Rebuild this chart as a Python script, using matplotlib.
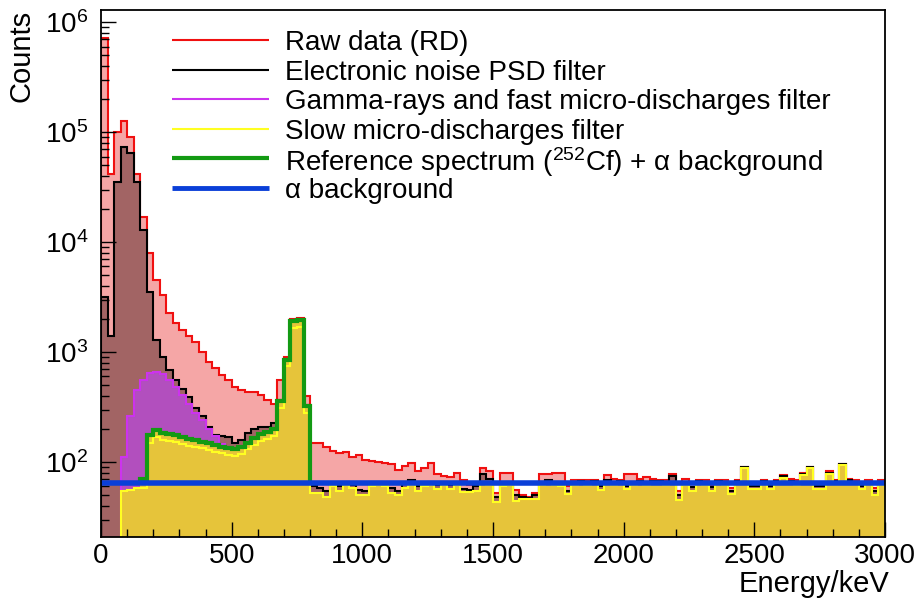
import numpy as np
import matplotlib
matplotlib.use("Agg")
import matplotlib.pyplot as plt
from matplotlib.ticker import MultipleLocator, LogLocator, NullFormatter

plt.rcParams['font.family'] = ['Liberation Sans', 'DejaVu Sans']
plt.rcParams['mathtext.fontset'] = 'custom'
plt.rcParams['mathtext.rm'] = 'Liberation Sans'
plt.rcParams['mathtext.it'] = 'Liberation Sans:italic'
plt.rcParams['mathtext.default'] = 'regular'

# 25 keV bins from 0 to 3000 keV
energy_edges = np.arange(0, 3001, 25)

# Raw data (RD), counts per bin
raw_counts = [
    7.2e5, 4.2e4, 1.0e5, 1.26e5, 9.0e4, 4.2e4, 1.7e4, 7.9e3, 4.5e3, 3.3e3,
    2.26e3, 1.84e3, 1.58e3, 1.4e3, 1.23e3, 1.0e3, 810, 710, 620, 560,
    480, 450, 430, 430, 410, 366, 340, 560, 900, 2000, 2050, 400,
    150, 148, 136, 126, 121, 124, 112, 116, 104, 102,
    100, 98, 96, 84, 92, 98, 82, 88, 98, 78,
    74, 73, 80, 68, 62, 66, 88, 82, 52, 80,
    79, 56, 50, 48, 52, 78, 77, 80, 79, 60,
    68, 69, 68, 69, 64, 76, 70, 68, 78, 78,
    70, 73, 70, 69, 68, 77, 55, 70, 64, 69,
    68, 62, 69, 68, 58, 69, 91, 64, 65, 69,
    64, 69, 76, 70, 68, 80, 91, 64, 63, 82,
    69, 96, 70, 68, 63, 68, 58, 68,
]

# Electronic noise PSD filter
noise_filtered = [
    3.2e3, 1.4e3, 3.5e4, 7.3e4, 6.5e4, 3.5e4, 1.3e4, 3.5e3, 1.3e3, 900,
    690, 560, 460, 390, 310, 260, 210, 176, 172, 170,
    148, 158, 182, 200, 210, 210, 226, 370, 870, 1950, 2000, 330,
    60, 58, 54, 64, 60, 66, 62, 56, 55, 66,
    66, 64, 58, 55, 64, 68, 60, 64, 66, 62,
    66, 62, 66, 57, 56, 60, 78, 70, 48, 64,
    66, 50, 48, 47, 50, 66, 68, 66, 65, 55,
    66, 67, 66, 67, 60, 68, 66, 67, 60, 66,
    67, 66, 67, 67, 66, 74, 50, 66, 59, 67,
    66, 59, 67, 66, 54, 67, 90, 60, 61, 67,
    61, 67, 75, 67, 66, 78, 90, 61, 60, 80,
    67, 95, 68, 66, 60, 66, 54, 66,
]

# Gamma-rays and fast micro-discharges filter (bins from 75 to 800 keV)
gamma_first_bin = 3
gamma_filtered = [
    110, 260, 450, 560, 640, 660, 630, 560, 480, 410,
    340, 280, 240, 200, 172, 145, 136, 134, 138, 152,
    167, 182, 190, 202, 362, 855, 1900, 1950, 322,
]

# Slow micro-discharges filter (bins from 75 keV on)
slow_first_bin = 3
slow_filtered = [
    55, 56, 58, 58, 150, 168, 160, 155, 152, 147,
    140, 137, 133, 128, 124, 120, 116, 114, 118, 130,
    143, 156, 163, 174, 310, 740, 1650, 1700, 280,
    52, 52, 48, 60, 54, 62, 58, 50, 50, 61,
    62, 61, 52, 50, 58, 62, 55, 61, 62, 57,
    62, 57, 62, 53, 53, 55, 63, 62, 43, 60,
    62, 44, 46, 46, 46, 62, 63, 62, 61, 51,
    62, 63, 62, 63, 56, 63, 62, 63, 57, 62,
    63, 62, 63, 64, 62, 64, 45, 62, 55, 63,
    62, 55, 63, 62, 51, 63, 88, 57, 57, 63,
    57, 63, 72, 63, 62, 76, 88, 57, 57, 78,
    64, 93, 65, 63, 57, 63, 50, 62,
]

# Reference spectrum (252Cf) + alpha background (bins from 150 to 800 keV)
ref_first_bin = 6
reference = [
    70, 176, 195, 185, 180, 176, 170, 162, 158, 153,
    148, 143, 138, 134, 132, 136, 150, 165, 180, 188,
    200, 360, 850, 1900, 1950, 320,
]

alpha_background = 65

legend_labels = [
    'Raw data (RD)',
    'Electronic noise PSD filter',
    'Gamma-rays and fast micro-discharges filter',
    'Slow micro-discharges filter',
    'Reference spectrum ($^{252}$Cf) + α background',
    'α background',
]

ymin, ymax = 20.8, 1.29e6
base = 1.0

red, pink = '#f01010', '#f5a6a6'
brown = '#a26464'
purple_line, purple_fill = '#cc33ee', '#b24fbe'
yellow_line, gold = '#ffff22', '#e6c43a'
green = '#139a13'
blue = '#0a3fd8'

fig = plt.figure(figsize=(9.21, 6.03), dpi=100)
ax = fig.add_axes([101 / 921, 66 / 603, 784 / 921, 527 / 603])
ax.set_yscale('log')

# raw data
ax.stairs(raw_counts, energy_edges, fill=True, baseline=base, color=pink, lw=0)
ax.stairs(raw_counts, energy_edges, baseline=base, color=red, lw=1.5)
# electronic noise filter
ax.stairs(noise_filtered, energy_edges, fill=True, baseline=base, color=brown, lw=0)
ax.stairs(noise_filtered, energy_edges, baseline=base, color='black', lw=1.5)
# gamma filter
g_edges = energy_edges[gamma_first_bin:gamma_first_bin + len(gamma_filtered) + 1]
ax.stairs(gamma_filtered, g_edges, fill=True, baseline=base, color=purple_fill, lw=0)
ax.stairs(gamma_filtered, g_edges, baseline=base, color=purple_line, lw=1.5)
# reference region filled in gold, then slow filter
r_edges = energy_edges[ref_first_bin:ref_first_bin + len(reference) + 1]
ax.stairs(reference, r_edges, fill=True, baseline=base, color=gold, lw=0)
s_edges = energy_edges[slow_first_bin:slow_first_bin + len(slow_filtered) + 1]
ax.stairs(slow_filtered, s_edges, fill=True, baseline=base, color=gold, lw=0)
ax.stairs(slow_filtered, s_edges, baseline=base, color=yellow_line, lw=1.5)
# reference spectrum line and alpha background
ax.stairs(reference, r_edges, baseline=alpha_background, color=green, lw=3)
ax.axhline(alpha_background, color=blue, lw=4)

ax.set_xlim(0, 3000)
ax.set_ylim(ymin, ymax)

ax.xaxis.set_major_locator(MultipleLocator(500))
ax.xaxis.set_minor_locator(MultipleLocator(100))
ax.yaxis.set_major_locator(LogLocator(base=10))
ax.yaxis.set_minor_locator(LogLocator(base=10, subs=np.arange(2, 10)))
ax.yaxis.set_minor_formatter(NullFormatter())
ax.tick_params(which='both', direction='in', top=False, right=False,
               labelsize=20, width=1, color='black')
ax.tick_params(which='major', length=11)
ax.tick_params(which='minor', length=5.5)
ax.tick_params(axis='y', pad=9)
ax.tick_params(axis='x', pad=4)
for s in ax.spines.values():
    s.set_linewidth(1.3)

ax.set_xlabel('Energy/keV', fontsize=21, loc='right')
ax.xaxis.set_label_coords(1.005, -0.062)
ax.set_ylabel('Counts', fontsize=21, loc='top')
ax.yaxis.set_label_coords(-0.083, 1.0)

# legend drawn as a block of lines and texts, like the ROOT TLegend
colors = [red, 'black', purple_line, yellow_line, green, blue]
widths = [1.5, 1.5, 1.5, 1.5, 3, 3.5]
ax_h = 527.0
for i, (lab, c, w) in enumerate(zip(legend_labels, colors, widths)):
    y = (537 - (40 + 29.6 * i)) / ax_h
    ax.plot([71 / 784, 168 / 784], [y, y], transform=ax.transAxes,
            color=c, lw=w, solid_capstyle='butt')
    ax.text(184 / 784, y, lab, transform=ax.transAxes, fontsize=20,
            va='center_baseline', ha='left')

fig.savefig('out.png', dpi=100)
